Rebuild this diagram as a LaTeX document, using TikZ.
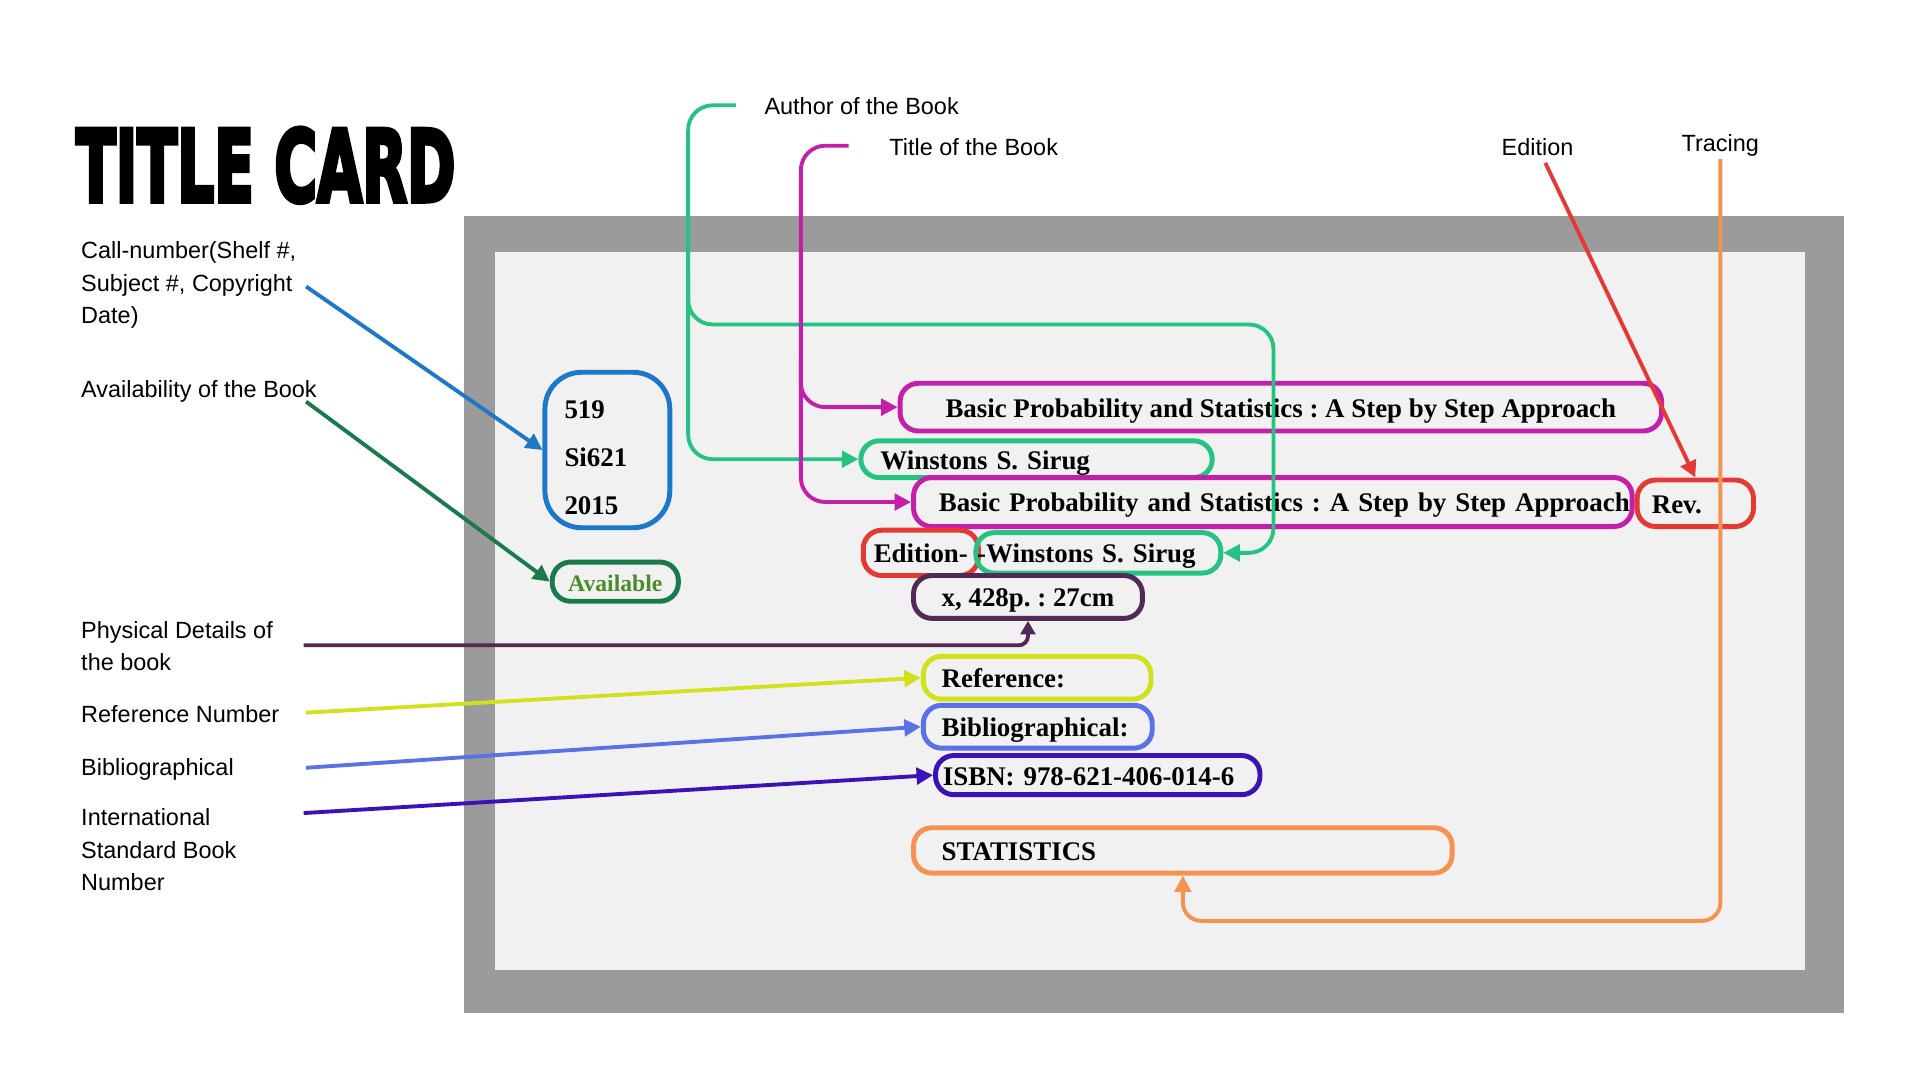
\documentclass[tikz,border=0pt]{standalone}
\usepackage{fontspec}
\usepackage{graphicx}
\setmainfont{Liberation Serif}
\setsansfont{Liberation Sans}
\newfontfamily\titlefont[BoldFeatures={FakeBold=5}]{DejaVu Sans}
\usetikzlibrary{arrows.meta}

\definecolor{framegray}{HTML}{9B9B9B}
\definecolor{panelgray}{HTML}{F1F1F1}
\definecolor{callblue}{HTML}{1E78C8}
\definecolor{availgreen}{HTML}{1B7A4B}
\definecolor{availtext}{HTML}{4C8B2B}
\definecolor{titlemag}{HTML}{C41FA8}
\definecolor{authgreen}{HTML}{26C281}
\definecolor{editred}{HTML}{E53935}
\definecolor{physpurple}{HTML}{512A55}
\definecolor{refyellow}{HTML}{D0E21C}
\definecolor{bibblue}{HTML}{5A72E6}
\definecolor{isbnindigo}{HTML}{3B12B8}
\definecolor{traceorange}{HTML}{F4924F}

\newcommand{\cardfont}{\fontsize{12.5}{15}\selectfont\bfseries}
\newcommand{\notefont}{\fontsize{10.9}{15.1}\selectfont\sffamily}

\begin{document}
\frenchspacing
\begin{tikzpicture}[
		x=0.02cm, y=-0.02cm,
		cardbox/.style={draw, line width=2.3pt, rounded corners=0.3cm, inner ysep=0pt, font=\cardfont, align=left},
		cardline/.style={cardbox, text height=12pt, text depth=2.75pt},
		note/.style={anchor=west, inner sep=0pt, align=left, font=\notefont},
		link/.style={line width=1.8pt, -{Triangle[length=0.27cm,width=0.27cm]}}
	]
	\useasboundingbox (0,0) rectangle (1568,882);

	% the card
	\fill[framegray] (379,176) rectangle (1506,827);
	\fill[panelgray] (404,206) rectangle (1474,792);

	\node[inner sep=0pt] (heading) at (217,135) {\resizebox{6.2cm}{1.2cm}{\titlefont\bfseries TITLE CARD}};

	% labels
	\node[note] (lcall) at (66,233) {Call-number(Shelf \#,\\Subject \#, Copyright\\Date)};
	\node[note] (lavail) at (66,320) {Availability of the Book};
	\node[note] (lphys) at (66,527.5) {Physical Details of\\the book};
	\node[note] (lref) at (66,583) {Reference Number};
	\node[note] (lbib) at (66,628) {Bibliographical};
	\node[note] (lisbn) at (66,694) {International\\Standard Book\\Number};
	\node[note] (lauthor) at (624,87) {Author of the Book};
	\node[note] (ltitle) at (726,120) {Title of the Book};
	\node[note] (ledition) at (1226,120) {Edition};
	\node[note] (ltracing) at (1373,119) {Tracing};

	% entries on the card
	\node[cardbox, draw=callblue, rounded corners=0.6cm, minimum width=2.04cm, minimum height=2.54cm,
		text width=1.40cm, inner xsep=0.32cm, font={\fontsize{12.5}{22.2}\selectfont\bfseries}] (call) at (496,367.5) {\strut 519\\Si621\\2015};
	\node[cardline, draw=availgreen, text=availtext, minimum width=2.06cm, minimum height=0.64cm,
		inner xsep=0.1cm, align=center, font={\fontsize{11}{13}\selectfont\bfseries}] (avail) at (502.5,475) {Available};
	\node[cardline, draw=titlemag, minimum width=12.44cm, minimum height=0.78cm, inner xsep=0.1cm, align=center] (title1) at (1046,332.5) {Basic Probability and Statistics : A Step by Step Approach};
	\node[cardline, draw=authgreen, minimum height=0.60cm, text width=5.10cm, inner xsep=0.32cm] (author1) at (846.5,375) {Winstons S. Sirug};
	\node[cardline, draw=titlemag, minimum height=0.80cm, text width=11.66cm, inner xsep=0.04cm, align=right] (title2) at (1039.5,410) {Basic Probability and Statistics : A Step by Step Approach};
	\node[cardline, draw=editred, minimum height=0.76cm, text width=1.42cm, inner xsep=0.24cm] (rev) at (1384.5,411) {Rev.};
	\node[cardline, draw=editred, minimum width=1.88cm, minimum height=0.74cm, inner xsep=0.1cm, align=center] (edition) at (752,451.5) {Edition-};
	\node[cardline, draw=authgreen, minimum height=0.66cm, text width=3.96cm, inner xsep=0.02cm] (author2) at (897,451.5) {-Winstons S. Sirug};
	\node[cardline, draw=physpurple, minimum width=3.74cm, minimum height=0.70cm, inner xsep=0.1cm, align=center] (phys) at (839.5,487.5) {x, 428p. : 27cm};
	\node[cardline, draw=refyellow, minimum height=0.70cm, text width=3.12cm, inner xsep=0.30cm] (ref) at (847,553.5) {Reference:};
	\node[cardline, draw=bibblue, minimum height=0.70cm, text width=3.14cm, inner xsep=0.30cm] (bib) at (847.5,593.5) {Bibliographical:};
	\node[cardline, draw=isbnindigo, minimum height=0.64cm, text width=5.06cm, inner xsep=0.12cm] (isbn) at (896.5,633) {ISBN: 978-621-406-014-6};
	\node[cardline, draw=traceorange, minimum height=0.74cm, text width=7.88cm, inner xsep=0.46cm] (stat) at (966,694.5) {STATISTICS};

	% free ends and bends of the connectors
	\coordinate (calls) at (250,234);
	\coordinate (avails) at (250,328);
	\coordinate (phy) at (248,527);
	\coordinate (refs) at (250,582);
	\coordinate (bibs) at (250,627);
	\coordinate (isbns) at (248,664);
	\coordinate (aut) at (601,86);
	\coordinate (autcorner) at (562,86);
	\coordinate (autbranch) at (562,225);
	\coordinate (autturn) at (1040,265);
	\coordinate (tit) at (693,119);
	\coordinate (titcorner) at (654,119);
	\coordinate (titbranch) at (654,290);
	\coordinate (edi) at (1262,133);
	\coordinate (tra) at (1405,130);
	\coordinate (tracorner) at (1405,752);

	\draw[link, callblue] (calls) -- (call.west);
	\draw[link, availgreen] (avails) -- (avail.west);
	\draw[link, authgreen, rounded corners=0.4cm] (aut) -- (autcorner) |- (author1.west);
	\draw[link, authgreen, rounded corners=0.4cm] (autbranch) |- (autturn) |- (author2.east);
	\draw[link, titlemag, rounded corners=0.4cm] (tit) -- (titcorner) |- (title2.west);
	\draw[link, titlemag, rounded corners=0.4cm] (titbranch) |- (title1.west);
	\draw[link, editred] (edi) -- (rev.north);
	\draw[link, traceorange, rounded corners=0.3cm] (tra) -- (tracorner) -| (stat.south);
	\draw[link, physpurple, rounded corners=0.15cm, -{Triangle[length=0.22cm,width=0.24cm]}] (phy) -| (phys.south);
	\draw[link, refyellow] (refs) -- (ref.west);
	\draw[link, bibblue] (bibs) -- (bib.west);
	\draw[link, isbnindigo] (isbns) -- (isbn.west);
\end{tikzpicture}
\end{document}
